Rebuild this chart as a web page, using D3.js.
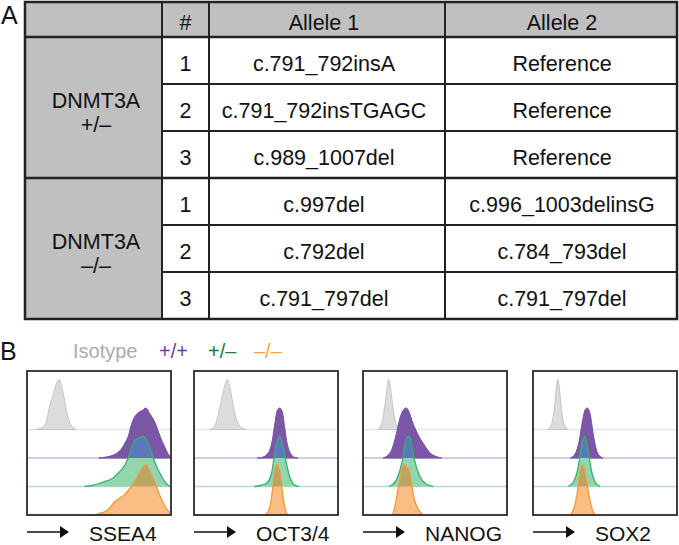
<!DOCTYPE html>
<html>
<head>
<meta charset="utf-8">
<script src="https://cdn.jsdelivr.net/npm/d3@7"></script>
<style>
html,body{margin:0;padding:0;background:#fff;}
svg{display:block;font-family:"Liberation Sans",Arial,Helvetica,sans-serif;}
</style>
</head>
<body>
<svg id="fig" width="679" height="545"></svg>
<script>
// ---------------- DATA ----------------
const headers = ["#", "Allele 1", "Allele 2"];
const groupNames = ["DNMT3A", "DNMT3A"];
const groupGenotypes = ["+/\u2013", "\u2013/\u2013"];
const cloneNums = ["1", "2", "3", "1", "2", "3"];
const allele1 = ["c.791_792insA", "c.791_792insTGAGC", "c.989_1007del", "c.997del", "c.792del", "c.791_797del"];
const allele2 = ["Reference", "Reference", "Reference", "c.996_1003delinsG", "c.784_793del", "c.791_797del"];

const markers = ["SSEA4", "OCT3/4", "NANOG", "SOX2"];
const legendLabels = ["Isotype", "+/+", "+/\u2013", "\u2013/\u2013"];

// histograms: [fluorescence (arbitrary log units 0-100), mode-normalised count]
const isotypeCurves = [
  [[6,0],[10,0.03],[13,0.12],[15,0.37],[17,0.6],[18.5,0.72],[20,0.88],[21.5,0.98],[22.5,1],[23.5,0.92],[25,0.75],[26.5,0.52],[28,0.3],[30,0.12],[32,0.04],[34,0]],
  [[11,0],[14,0.05],[16,0.2],[18,0.45],[20,0.72],[22,0.93],[23.2,1],[24.5,0.9],[26.5,0.6],[28.5,0.3],[31,0.1],[34,0.02],[36,0]],
  [[10,0],[12,0.05],[14,0.25],[15.5,0.55],[16.8,0.85],[17.8,1],[19,0.85],[20.5,0.5],[22,0.22],[24,0.06],[26,0]],
  [[10,0],[12,0.05],[14,0.25],[15.3,0.55],[16.4,0.88],[17.2,1],[18.2,0.85],[19.4,0.5],[20.8,0.2],[22.5,0.05],[24.3,0]]
];
const wtCurves = [
  [[50,0],[55,0.02],[60,0.06],[63,0.11],[66,0.2],[68,0.3],[70.5,0.45],[72,0.62],[74,0.78],[77,0.9],[80,0.95],[82.5,1],[85,0.9],[89,0.7],[92.5,0.43],[96,0.2],[99,0.04],[100,0.02]],
  [[44,0],[47,0.01],[50.5,0.07],[52.5,0.15],[54,0.3],[55.2,0.5],[56.2,0.7],[57.8,0.95],[59.5,1],[61.3,0.93],[62.9,0.63],[64,0.4],[65.2,0.23],[67.5,0.07],[70,0.01],[72,0]],
  [[14,0],[16.2,0.03],[19.7,0.15],[21.5,0.3],[23.1,0.48],[25.5,0.78],[27.8,0.95],[30.1,1],[32.4,0.89],[34,0.75],[35.9,0.61],[39.3,0.41],[42.8,0.25],[46.3,0.11],[50.9,0.03],[54.4,0]],
  [[26,0],[29.4,0.09],[32.2,0.36],[34.5,0.76],[36.3,0.97],[37.8,1],[39.8,0.86],[42.1,0.43],[44.4,0.13],[46.7,0.03],[48.5,0]]
];
const hetCurves = [
  [[40,0],[45,0.02],[50,0.06],[55,0.11],[58,0.14],[61,0.2],[64,0.29],[68,0.43],[71.5,0.67],[75,0.93],[78.5,0.97],[80.5,1],[83,0.93],[86.5,0.67],[90,0.4],[93.5,0.2],[97,0.05],[99.5,0]],
  [[42,0],[46,0.02],[50.5,0.07],[53.9,0.27],[55.7,0.6],[57.4,0.87],[59.5,1],[61.8,0.8],[64.1,0.47],[66.4,0.2],[69.8,0.03],[73,0]],
  [[18,0],[22,0.08],[25.5,0.31],[27.8,0.58],[29.6,0.91],[31.7,1],[33.1,0.91],[34.5,0.7],[35.9,0.51],[39.3,0.21],[43.9,0.05],[48.6,0]],
  [[24.5,0],[28.3,0.1],[31.3,0.37],[33.6,0.8],[35.9,1],[38.2,0.73],[40.5,0.33],[43.3,0.08],[46.5,0]]
];
const koCurves = [
  [[46,0],[50,0.03],[55,0.08],[58,0.16],[61,0.27],[64,0.33],[67,0.39],[71.5,0.53],[76,0.73],[79.5,0.9],[82.5,1],[85.5,0.87],[89,0.63],[92.5,0.37],[96,0.17],[99.5,0.03]],
  [[49,0],[51,0.05],[53,0.2],[54.5,0.5],[55.8,0.85],[57,0.98],[57.7,1],[58.8,0.95],[60,0.8],[61,0.55],[62.2,0.3],[63.5,0.1],[65,0]],
  [[20.5,0],[22,0.15],[23.3,0.35],[24.5,0.55],[26.8,0.89],[29,1],[30,0.93],[31.3,0.95],[33.6,0.62],[35.9,0.29],[38.9,0.09],[41.7,0]],
  [[25.8,0],[28.3,0.12],[30.6,0.42],[32.4,0.82],[34.5,1],[36.8,0.75],[39.1,0.35],[41.4,0.09],[43.3,0]]
];

// ---------------- STYLE / LAYOUT ----------------
const svg = d3.select("#fig");
const FONT = 21.5;
const grayFill = "#c0c0c0";
const lineCol = "#222";

// ---------- Panel A: table ----------
const tLeft = 25, tRight = 677, tTop = 2, headH = 35, rowH = 47;
const colEdges = [tLeft, 162, 209, 445, tRight];
const colText = [96, 185.5, 324, 562];
const rowY = d3.scaleLinear().domain([0, 6]).range([tTop + headH, tTop + headH + 6 * rowH]);
const tBottom = rowY(6);

svg.append("text").attr("x", 1).attr("y", 24).attr("font-size", 25).attr("fill", "#111").text("A");

svg.append("rect").attr("x", tLeft).attr("y", tTop).attr("width", tRight - tLeft).attr("height", headH).attr("fill", grayFill);
svg.append("rect").attr("x", tLeft).attr("y", rowY(0)).attr("width", colEdges[1] - tLeft).attr("height", tBottom - rowY(0)).attr("fill", grayFill);

const tg = svg.append("g").attr("font-size", FONT).attr("fill", "#111").attr("text-anchor", "middle");
headers.forEach((h, i) => {
  tg.append("text").attr("x", colText[i + 1]).attr("y", tTop + headH / 2 + 10).text(h);
});
cloneNums.forEach((c, i) => {
  const cy = (rowY(i) + rowY(i + 1)) / 2 + 10;
  tg.append("text").attr("x", colText[1]).attr("y", cy).text(c);
  tg.append("text").attr("x", colText[2]).attr("y", cy).text(allele1[i]);
  tg.append("text").attr("x", colText[3]).attr("y", cy).text(allele2[i]);
});
groupNames.forEach((g, k) => {
  const cy = (rowY(k * 3) + rowY(k * 3 + 3)) / 2;
  tg.append("text").attr("x", colText[0]).attr("y", cy).text(g);
  tg.append("text").attr("x", colText[0]).attr("y", cy + 24).text(groupGenotypes[k]);
});

const lg = svg.append("g").attr("stroke", lineCol).attr("stroke-width", 2).attr("fill", "none");
lg.append("rect").attr("x", tLeft).attr("y", tTop).attr("width", tRight - tLeft).attr("height", tBottom - tTop).attr("stroke-width", 2.5);
colEdges.slice(1, 4).forEach(x => lg.append("line").attr("x1", x).attr("x2", x).attr("y1", tTop).attr("y2", tBottom));
d3.range(0, 6).forEach(i => {
  const full = (i === 0 || i === 3);
  lg.append("line").attr("x1", full ? tLeft : colEdges[1]).attr("x2", tRight)
    .attr("y1", rowY(i)).attr("y2", rowY(i)).attr("stroke-width", full ? 2.5 : 2);
});

// ---------- Panel B: histograms ----------
svg.append("text").attr("x", 0).attr("y", 360).attr("font-size", 25).attr("fill", "#111").text("B");

const legendColors = ["#ababab", "#6b3fa0", "#23793a", "#f4a340"];
const legendX = [73, 159, 208, 254];
legendLabels.forEach((l, i) => {
  svg.append("text").attr("x", legendX[i]).attr("y", 358).attr("font-size", 20)
    .attr("fill", legendColors[i]).text(l);
});

const boxLefts = [27, 194, 363, 533];
const boxW = 144, boxTop = 371, boxBottom = 515;
const peakPx = 50;
const rowStep = 0.57; // vertical offset between stacked histograms (in peak units)
const series = [
  {curves: isotypeCurves, fill: "#dcdcdc", stroke: "#c4c4c4", base: "#e4e4e4", off: 3},
  {curves: wtCurves, fill: "#7c56a7", stroke: "#7650a3", base: "#c9b6de", off: 2},
  {curves: hetCurves, fill: "#93d5ae", stroke: "#36b26b", base: "#b3e0c5", off: 1},
  {curves: koCurves, fill: "#fbbd84", stroke: "#f39a36", base: "#fbd2a8", off: 0}
];

markers.forEach((m, p) => {
  const left = boxLefts[p];
  const x = d3.scaleLinear().domain([0, 100]).range([left, left + boxW]);
  const y = d3.scaleLinear().domain([0, (boxBottom - boxTop) / peakPx]).range([boxBottom, boxTop]);
  const g = svg.append("g");
  const clipId = "box" + p;
  g.append("clipPath").attr("id", clipId).append("rect")
    .attr("x", left).attr("y", boxTop).attr("width", boxW).attr("height", boxBottom - boxTop);
  const inner = g.append("g").attr("clip-path", `url(#${clipId})`);

  const areaFor = (off) => d3.area().curve(d3.curveMonotoneX)
    .x(d => x(d[0])).y0(y(off * rowStep)).y1(d => y(off * rowStep + d[1]));
  const lineFor = (off) => d3.line().curve(d3.curveMonotoneX)
    .x(d => x(d[0])).y(d => y(off * rowStep + d[1]));

  series.forEach(s => {
    inner.append("line").attr("x1", x(0)).attr("x2", x(100))
      .attr("y1", y(s.off * rowStep)).attr("y2", y(s.off * rowStep))
      .attr("stroke", s.base).attr("stroke-width", 1.3);
  });

  const paths = series.map(s => areaFor(s.off)(s.curves[p]));

  inner.append("path").attr("d", paths[0]).attr("fill", series[0].fill).attr("stroke", series[0].stroke).attr("stroke-width", 1);
  inner.append("path").attr("d", paths[1]).attr("fill", series[1].fill).attr("stroke", series[1].stroke).attr("stroke-width", 1);

  const cp1 = "wt" + p;
  g.append("clipPath").attr("id", cp1).append("path").attr("d", paths[1]);
  inner.append("path").attr("d", paths[2]).attr("fill", series[2].fill);
  inner.append("path").attr("d", paths[2]).attr("fill", "#5a78bd").attr("clip-path", `url(#${cp1})`);
  inner.append("path").attr("d", lineFor(series[2].off)(series[2].curves[p])).attr("fill", "none").attr("stroke", series[2].stroke).attr("stroke-width", 1.3);

  const cp2 = "het" + p;
  g.append("clipPath").attr("id", cp2).append("path").attr("d", paths[2]);
  inner.append("path").attr("d", paths[3]).attr("fill", series[3].fill);
  inner.append("path").attr("d", paths[3]).attr("fill", "#b9a564").attr("clip-path", `url(#${cp2})`);
  inner.append("path").attr("d", lineFor(series[3].off)(series[3].curves[p])).attr("fill", "none").attr("stroke", series[3].stroke).attr("stroke-width", 1.3);

  g.append("rect").attr("x", left).attr("y", boxTop).attr("width", boxW).attr("height", boxBottom - boxTop)
    .attr("fill", "none").attr("stroke", "#2a2a2a").attr("stroke-width", 1.8);

  const ay = 532;
  g.append("line").attr("x1", left).attr("x2", left + 34).attr("y1", ay).attr("y2", ay)
    .attr("stroke", "#111").attr("stroke-width", 1.5);
  g.append("path").attr("d", `M${left + 33},${ay - 6}L${left + 42},${ay}L${left + 33},${ay + 6}Z`).attr("fill", "#111");
  g.append("text").attr("x", left + 62).attr("y", 541).attr("font-size", 21).attr("fill", "#111").text(m);
});
</script>
</body>
</html>
